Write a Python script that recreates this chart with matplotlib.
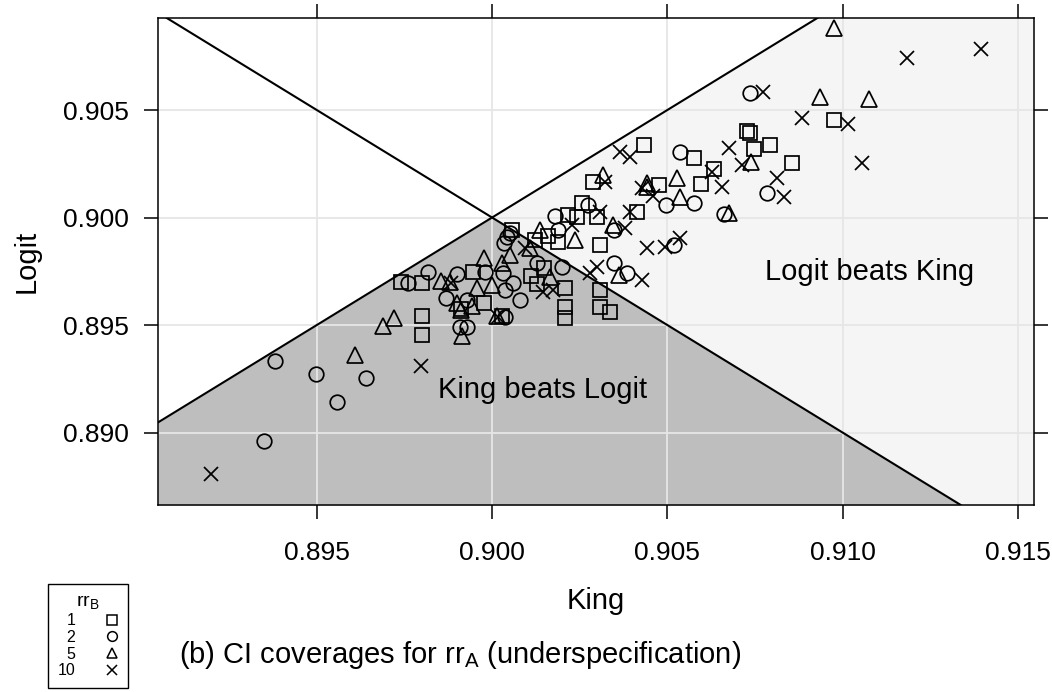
import numpy as np
import matplotlib
matplotlib.use("Agg")
import matplotlib.pyplot as plt
from matplotlib.lines import Line2D

plt.rcParams['font.family'] = ['Liberation Sans', 'DejaVu Sans']

# coverage estimates, one pair of lists per rr_B level
king_rr1 = [0.89739, 0.89799, 0.89799, 0.89799, 0.89946, 0.89977, 0.89911, 0.90434,
            0.90289, 0.90256, 0.90413, 0.90218, 0.90242, 0.90299, 0.90056, 0.90111,
            0.90128, 0.90209, 0.90209, 0.90209, 0.90307, 0.90307, 0.90337, 0.90149,
            0.90728, 0.90737, 0.90747, 0.90794, 0.90856, 0.90975, 0.90577, 0.90634,
            0.90596, 0.90475, 0.90029, 0.90123, 0.90189, 0.90160, 0.90309]
logit_rr1 = [0.89701, 0.89694, 0.89542, 0.89453, 0.89747, 0.89604, 0.89574, 0.90337,
             0.90167, 0.90066, 0.90027, 0.90012, 0.90001, 0.90001, 0.89942, 0.89729,
             0.89689, 0.89671, 0.89585, 0.89531, 0.89663, 0.89585, 0.89562, 0.89764,
             0.90404, 0.90394, 0.90317, 0.90337, 0.90255, 0.90453, 0.90275, 0.90224,
             0.90154, 0.90151, 0.89542, 0.89895, 0.89886, 0.89914, 0.89872]

king_rr2 = [0.89380, 0.89499, 0.89639, 0.89557, 0.89349, 0.89759, 0.89817, 0.89899,
            0.89869, 0.89928, 0.89909, 0.89928, 0.90034, 0.90042, 0.89980, 0.90031,
            0.90037, 0.90180, 0.90275, 0.90189, 0.90347, 0.90051, 0.90061, 0.90080,
            0.90347, 0.90385, 0.90037, 0.90128, 0.90199, 0.90537, 0.90785, 0.90497,
            0.90575, 0.90661, 0.90735, 0.90518]
logit_rr2 = [0.89333, 0.89272, 0.89253, 0.89142, 0.88960, 0.89694, 0.89745, 0.89736,
             0.89626, 0.89616, 0.89492, 0.89492, 0.89881, 0.89911, 0.89748, 0.89742,
             0.89663, 0.90007, 0.90058, 0.89942, 0.89942, 0.89928, 0.89694, 0.89616,
             0.89787, 0.89740, 0.89539, 0.89787, 0.89771, 0.90306, 0.90113, 0.90058,
             0.90066, 0.90016, 0.90580, 0.89872]

king_rr5 = [0.89609, 0.89854, 0.89880, 0.89977, 0.90029, 0.89958, 0.89999, 0.89899,
            0.89911, 0.89943, 0.89689, 0.89721, 0.90013, 0.89914, 0.90316, 0.90442,
            0.90137, 0.90346, 0.90361, 0.90051, 0.90166, 0.90935, 0.90739, 0.90528,
            0.90537, 0.90675, 0.90442, 0.91075, 0.90975, 0.90237, 0.90109]
logit_rr5 = [0.89360, 0.89706, 0.89701, 0.89813, 0.89790, 0.89672, 0.89686, 0.89604,
             0.89570, 0.89588, 0.89497, 0.89531, 0.89542, 0.89449, 0.90198, 0.90159,
             0.89942, 0.89965, 0.89733, 0.89826, 0.89725, 0.90562, 0.90260, 0.90182,
             0.90097, 0.90020, 0.90143, 0.90550, 0.90880, 0.89895, 0.89858]

king_rr10 = [0.89199, 0.89882, 0.90017, 0.89797, 0.90366, 0.90394, 0.90323, 0.90428,
             0.90309, 0.90394, 0.90380, 0.90145, 0.90175, 0.90280, 0.90299, 0.90428,
             0.90094, 0.90442, 0.90675, 0.90713, 0.90885, 0.90813, 0.90834, 0.90656,
             0.90628, 0.90459, 0.90774, 0.90494, 0.90537, 0.91185, 0.91394, 0.91015,
             0.91056, 0.90229]
logit_rr10 = [0.88807, 0.89694, 0.89536, 0.89309, 0.90306, 0.90283, 0.90167, 0.90136,
              0.90027, 0.90027, 0.89951, 0.89655, 0.89663, 0.89740, 0.89771, 0.89709,
              0.89857, 0.89857, 0.90322, 0.90244, 0.90461, 0.90182, 0.90094, 0.90143,
              0.90213, 0.90100, 0.90585, 0.89864, 0.89903, 0.90743, 0.90782, 0.90433,
              0.90252, 0.89965]

rr_levels = ['1', '2', '5', '10']
markers = ['s', 'o', '^', 'x']
nominal = 0.90
xticks = [0.895, 0.900, 0.905, 0.910, 0.915]
yticks = [0.890, 0.895, 0.900, 0.905]

fig = plt.figure(figsize=(10.52, 6.92), dpi=100)
ax = fig.add_axes([158 / 1052, 1 - 505 / 692, 876 / 1052, 487 / 692])
x0, x1 = 0.89047, 0.91546
y0, y1 = 0.88663, 0.90928
ax.set_xlim(x0, x1)
ax.set_ylim(y0, y1)

# shaded regions
xs = np.array([x0, nominal, x1])
ax.fill_between(xs, y0, np.minimum(xs, 2 * nominal - xs), color='#bebebe', lw=0, zorder=0.5)
xr = np.array([nominal, x1])
ax.fill_between(xr, 2 * nominal - xr, xr, color='#f5f5f5', lw=0, zorder=0.5)

for t in xticks:
    ax.axvline(t, color='#e6e6e6', lw=1.3, zorder=1)
for t in yticks:
    ax.axhline(t, color='#e6e6e6', lw=1.3, zorder=1)

ax.axline((nominal, nominal), slope=1, color='black', lw=1.5, zorder=2)
ax.axline((nominal, nominal), slope=-1, color='black', lw=1.5, zorder=2)

groups = [(king_rr1, logit_rr1), (king_rr2, logit_rr2), (king_rr5, logit_rr5), (king_rr10, logit_rr10)]
sizes = [10, 10.5, 11, 9.5]
for (kx, ly), m, s in zip(groups, markers, sizes):
    ax.plot(kx, ly, linestyle='none', marker=m, markersize=s, markerfacecolor='none',
            markeredgecolor='black', markeredgewidth=1.25, color='black', zorder=3)

ax.text(0.90779, 0.89747, 'Logit beats King', fontsize=21, ha='left', va='center', zorder=4)
ax.text(0.90144, 0.89198, 'King beats Logit', fontsize=21, ha='center', va='center', zorder=4)

ax.set_xticks(xticks)
ax.set_yticks(yticks)
ax.set_xticklabels(['%.3f' % t for t in xticks])
ax.set_yticklabels(['%.3f' % t for t in yticks])
ax.tick_params(direction='out', length=10, width=1.1, labelsize=19, top=True, right=True)
ax.tick_params(axis='x', pad=16)
ax.tick_params(axis='y', pad=11)
for sp in ax.spines.values():
    sp.set_linewidth(1.1)

ax.set_xlabel('King', fontsize=21, labelpad=16)
ax.set_ylabel('Logit', fontsize=21, labelpad=16)

handles = [Line2D([], [], linestyle='none', marker=m, markersize=7, markerfacecolor='none',
                  markeredgecolor='black', markeredgewidth=1.1) for m in markers]
leg = fig.legend(handles, rr_levels, title='rr$_\\mathregular{B}$', markerfirst=False,
                 loc='upper left', bbox_to_anchor=(48 / 1052, 1 - 584 / 692),
                 frameon=True, fancybox=False, edgecolor='black', framealpha=1,
                 fontsize=11.5, title_fontsize=14, handlelength=0.8, handletextpad=1.9,
                 labelspacing=0.1, borderpad=0.6, borderaxespad=0, alignment='center')
leg.get_frame().set_linewidth(1.0)

fig.text(460 / 1052, 1 - 655 / 692, '(b) CI coverages for rr$_\\mathregular{A}$ (underspecification)',
         fontsize=21, ha='center', va='center')

fig.savefig('out.png', dpi=100)
